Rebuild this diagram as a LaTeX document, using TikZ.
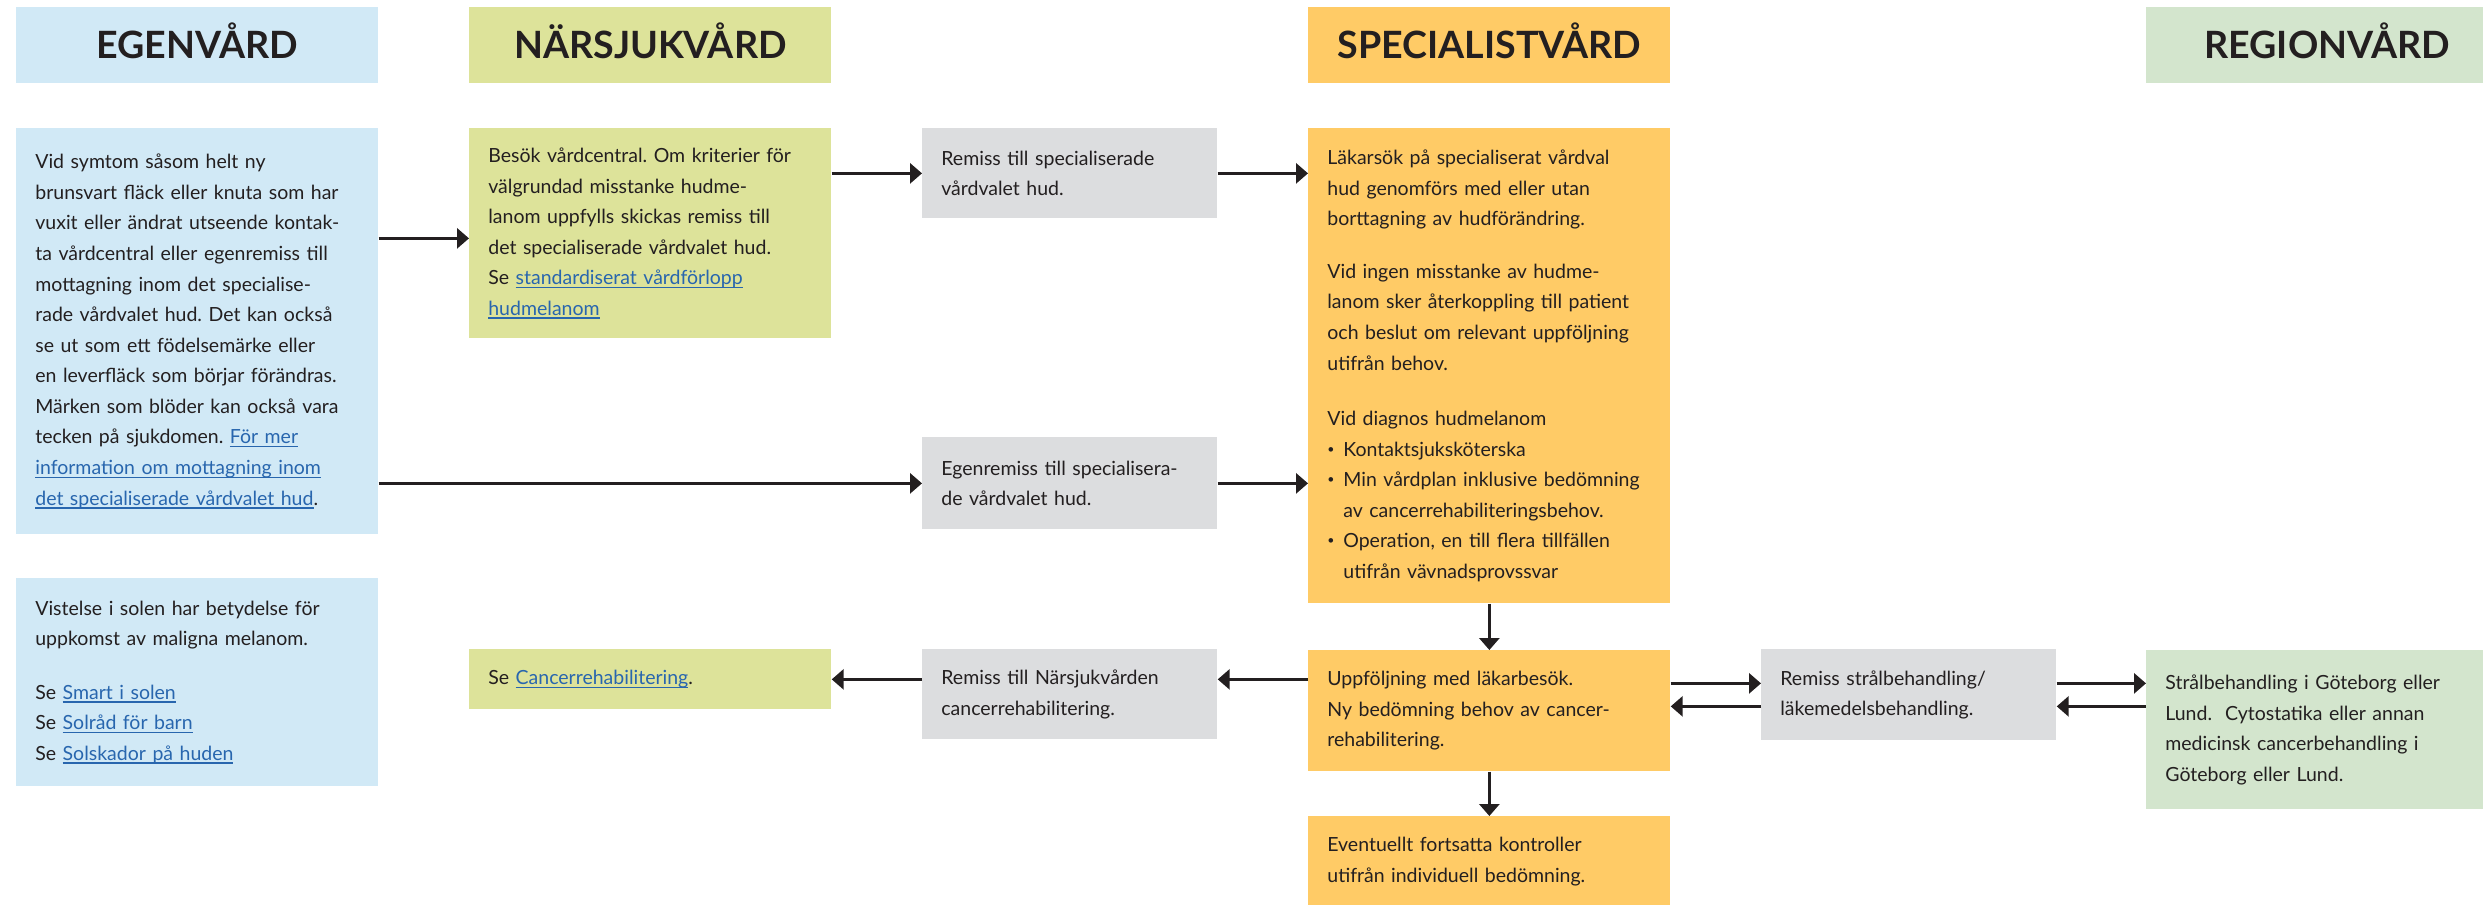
\documentclass[tikz,border=0pt]{standalone}
\usepackage{fontspec, xcolor}
\usetikzlibrary{arrows.meta}
\setmainfont{Lato}
\frenchspacing
\definecolor{ink}{HTML}{231F20}
\definecolor{egen}{HTML}{D1E9F6}
\definecolor{nara}{HTML}{DDE39A}
\definecolor{remiss}{HTML}{DCDDDF}
\definecolor{spec}{HTML}{FFCB66}
\definecolor{region}{HTML}{D3E5CD}
\definecolor{webblue}{HTML}{2866AE}
\newcommand{\weblink}[1]{\textcolor{webblue}{\setbox0\hbox{#1}\rlap{\rule[-0.7mm]{\wd0}{0.3mm}}\box0}}
\newcommand{\punkt}{\makebox[3.2mm][l]{\raisebox{0.3ex}{\fontsize{7}{7}\selectfont •}}}

\begin{document}
\begin{tikzpicture}[x = 0.2mm, y = -0.2mm,
    box/.style = {anchor = north west, inner xsep = 3.8mm, inner ysep = 1mm, text width = 64.8mm, align = left, text = ink, font = \fontsize{11.1}{17.4}\selectfont},
    narrow/.style = {box, text width = 51.4mm},
    head/.style = {anchor = north west, minimum width = 72.4mm, minimum height = 15.2mm, inner sep = 0pt, text height = 5.4mm, text depth = 0pt, text = ink, font = \fontsize{21.4}{24}\selectfont\bfseries},
    arrow/.style = {-{Triangle[length = 2.4mm, width = 4mm]}, line width = 0.6mm, draw = ink}]
    \useasboundingbox (0,0) rectangle (2483,904);
    \clip (0,0) rectangle (2483,904);

    \node [head, fill = egen] (hegen) at (16,7) {EGENVÅRD};
    \node [head, fill = nara] (hnara) at (469,7) {NÄRSJUKVÅRD};
    \node [head, fill = spec] (hspec) at (1308,7) {SPECIALISTVÅRD};
    \node [head, fill = region] (hregion) at (2146,7) {REGIONVÅRD};

    \node [box, fill = egen, minimum height = 81.2mm] (egen1) at (16,128) {Vid symtom såsom helt ny\\
        brunsvart fläck eller knuta som har\\
        vuxit eller ändrat utseende kontak-\\
        ta vårdcentral eller egenremiss till\\
        mottagning inom det specialise-\\
        rade vårdvalet hud. Det kan också\\
        se ut som ett födelsemärke eller\\
        en leverfläck som börjar förändras.\\
        Märken som blöder kan också vara\\
        tecken på sjukdomen. \weblink{För mer}\\
        \weblink{information om mottagning inom}\\
        \weblink{det specialiserade vårdvalet hud}.};
    \node [box, fill = egen, minimum height = 41.6mm] (egen2) at (16,578) {Vistelse i solen har betydelse för\\
        uppkomst av maligna melanom.\\[4.6mm]
        Se \weblink{Smart i solen}\\
        Se \weblink{Solråd för barn}\\
        Se \weblink{Solskador på huden}};

    \node [box, fill = nara, minimum height = 42mm] (nar1) at (469,128) {Besök vårdcentral. Om kriterier för\\
        välgrundad misstanke hudme-\\
        lanom uppfylls skickas remiss till\\
        det specialiserade vårdvalet hud.\\
        Se \weblink{standardiserat vårdförlopp}\\
        \weblink{hudmelanom}};
    \node [box, fill = nara, minimum height = 12mm] (nar2) at (469,649) {Se \weblink{Cancerrehabilitering}.};

    \node [narrow, fill = remiss, minimum height = 18mm] (rem1) at (922,128) {Remiss till specialiserade\\vårdvalet hud.};
    \node [narrow, fill = remiss, minimum height = 18.4mm] (rem2) at (922,437) {Egenremiss till specialisera-\\de vårdvalet hud.};
    \node [narrow, fill = remiss, minimum height = 18mm] (rem3) at (922,649) {Remiss till Närsjukvården\\cancerrehabilitering.};

    \node [box, fill = spec, minimum height = 95mm] (spec1) at (1308,128) {Läkarsök på specialiserat vårdval\\
        hud genomförs med eller utan\\
        borttagning av hudförändring.\\[4.4mm]
        Vid ingen misstanke av hudme-\\
        lanom sker återkoppling till patient\\
        och beslut om relevant uppföljning\\
        utifrån behov.\\[5mm]
        Vid diagnos hudmelanom\\
        \punkt Kontaktsjuksköterska\\
        \punkt Min vårdplan inklusive bedömning\\
        \hspace*{3.2mm}av cancerrehabiliteringsbehov.\\
        \punkt Operation, en till flera tillfällen\\
        \hspace*{3.2mm}utifrån vävnadsprovssvar};
    \node [box, fill = spec, minimum height = 24.2mm] (spec2) at (1308,650) {Uppföljning med läkarbesök.\\Ny bedömning behov av cancer-\\rehabilitering.};
    \node [box, fill = spec, minimum height = 18mm] (spec3) at (1308,816) {Eventuellt fortsatta kontroller\\utifrån individuell bedömning.};

    \node [narrow, fill = remiss, minimum height = 18.2mm] (rem4) at (1761,649) {Remiss strålbehandling/\\läkemedelsbehandling.};
    \node [box, fill = region, minimum height = 31.8mm] (reg1) at (2146,650) {Strålbehandling i Göteborg eller\\Lund.\ \ Cytostatika eller annan\\medicinsk cancerbehandling i\\Göteborg eller Lund.};

    \coordinate (tillnar) at ([yshift = -1mm] nar1.west);
    \coordinate (fram) at ([yshift = 2.3mm] rem4.west);
    \coordinate (tillbaka) at ([yshift = -2.3mm] rem4.west);

    \draw [arrow] (egen1.east |- tillnar) -- (tillnar);
    \draw [arrow] (egen1.east |- rem2.west) -- (rem2.west);
    \draw [arrow] (nar1.east |- rem1.west) -- (rem1.west);
    \draw [arrow] (rem1.east) -- (spec1.west |- rem1.east);
    \draw [arrow] (rem2.east) -- (spec1.west |- rem2.east);
    \draw [arrow] (spec1.south) -- (spec2.north);
    \draw [arrow] (spec2.south) -- (spec3.north);
    \draw [arrow] (spec2.west |- nar2.east) -- (rem3.east |- nar2.east);
    \draw [arrow] (rem3.west |- nar2.east) -- (nar2.east);
    \draw [arrow] (spec2.east |- fram) -- (fram);
    \draw [arrow] (tillbaka) -- (spec2.east |- tillbaka);
    \draw [arrow] (rem4.east |- fram) -- (reg1.west |- fram);
    \draw [arrow] (reg1.west |- tillbaka) -- (rem4.east |- tillbaka);
\end{tikzpicture}
\end{document}
